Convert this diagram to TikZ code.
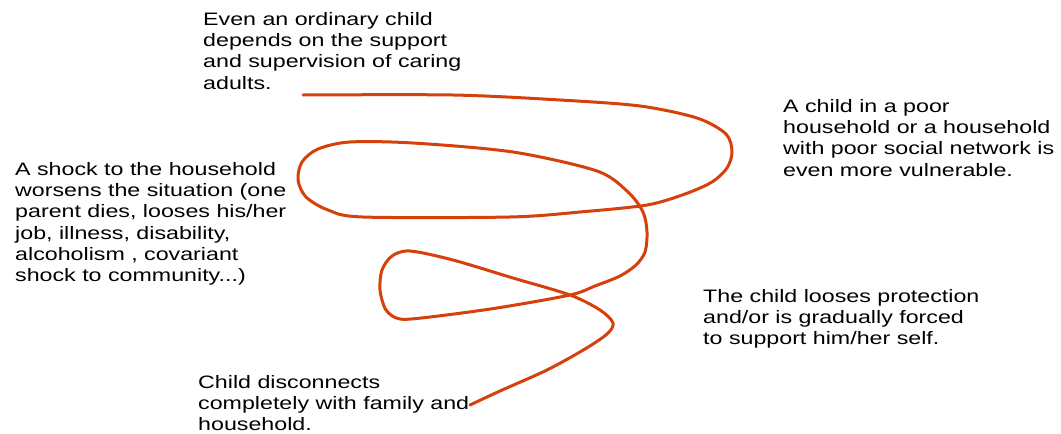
\documentclass[tikz,border=0pt]{standalone}
\usepackage{fontspec}
\setmainfont{Liberation Sans}[FakeStretch=1.29]
\definecolor{spiral}{RGB}{214,64,10}
\tikzset{
  label/.style={anchor=north west, inner sep=0pt, align=left, text=black,
    font=\fontsize{18}{21.3}\selectfont},
  spiralline/.style={draw=spiral, line width=3pt, line join=round, line cap=round}
}
\begin{document}
\begin{tikzpicture}[x=1pt,y=-1pt]
\useasboundingbox[fill=white] (0,0) rectangle (1061,434);
\node[label] (t1) at (203,12) {Even an ordinary child\\depends on the support\\and supervision of caring\\adults.};
\node[label] (t2) at (783,99) {A child in a poor\\household or a household\\with poor social network is\\even more vulnerable.};
\node[label] (t3) at (15,162) {A shock to the household\\worsens the situation (one\\parent dies, looses his/her\\job, illness, disability,\\alcoholism , covariant\\shock to community...)};
\node[label] (t4) at (703,289) {The child looses protection\\and/or is gradually forced\\to support him/her self.};
\node[label] (t5) at (198,375) {Child disconnects\\completely with family and\\household.};
\coordinate (start) at (303,95);
\coordinate (finish) at (470,405);
\draw[spiralline] plot[smooth, tension=0.5] coordinates {
(303,95) (453,95) (560,100) (640,106) (697,118) (726,134) (732,152) (727,168)
(712,182) (685,194) (647,205) (580,212) (510,217) (363,217) (328,210) (306,197)
(298,180) (302,162) (318,149) (350,142) (413,143) (513,152) (597,171) (628,192)
(643,212) (647,232) (645,252) (636,265) (620,276) (595,286) (570,295) (497,308)
(430,317) (400,319) (386,310) (380,290) (382,270) (392,256) (410,251) (453,260)
(513,278) (570,295) (600,310) (613,323) (607,334) (585,349) (547,370) (500,391)
(470,405)};
\end{tikzpicture}
\end{document}
